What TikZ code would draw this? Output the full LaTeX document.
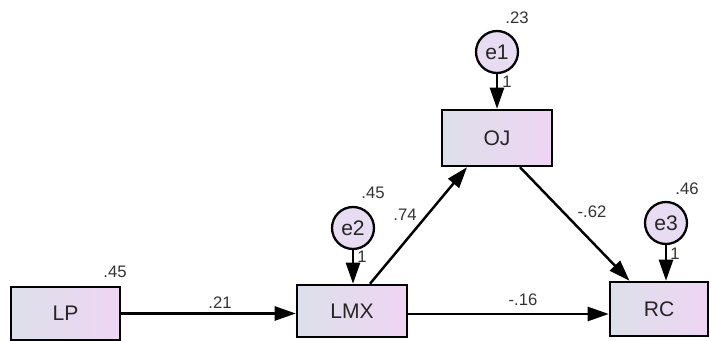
\documentclass[tikz,border=0pt]{standalone}
\usepackage{fontspec}
\setmainfont{Liberation Sans}
\usepackage{xcolor}
\usetikzlibrary{arrows.meta,positioning}

\definecolor{boxleft}{HTML}{DCE0EA}
\definecolor{boxright}{HTML}{EFD5F3}
\definecolor{errfill}{HTML}{E7DCF1}
\definecolor{labgray}{HTML}{333333}

\tikzset{
    obsvar/.style={draw, line width=1.4pt, left color=boxleft, right color=boxright,
        minimum width=2.2cm, minimum height=1.06cm, inner sep=0pt,
        font=\fontsize{12}{14}\selectfont, text=black!85},
    errvar/.style={draw, circle, line width=1.3pt, fill=errfill, minimum size=0.84cm,
        inner sep=0pt, font=\fontsize{12}{14}\selectfont, text=black!85},
    regpath/.style={-{Triangle[length=12pt,width=8pt]}, line width=1.4pt},
    coef/.style={font=\fontsize{9.5}{11}\selectfont, text=labgray, inner sep=0pt}
}

\begin{document}
\begin{tikzpicture}[x=0.02cm, y=-0.02cm]
    \useasboundingbox (0,0) rectangle (711,341);

    % Observed variables
    \node[obsvar, minimum width=2.18cm] (lp) at (65.5,313.5) {LP};
    \node[obsvar, minimum height=1.04cm] (lmx) at (352,311) {LMX};
    \node[obsvar, minimum height=1.12cm] (oj) at (497,138) {OJ};
    \node[obsvar, minimum width=1.96cm, minimum height=1.08cm] (rc) at (659,309) {RC};

    % Error terms
    \node[errvar] (e1) at (497,52) {e1};
    \node[errvar] (e2) at (353,228) {e2};
    \node[errvar] (e3) at (666,223) {e3};

    % Paths
    \draw[regpath] (lp.east) -- (lp.east -| lmx.west);
    \draw[regpath] ([yshift=-0.06cm]lmx.east) -- ([yshift=-0.06cm]lmx.east -| rc.west);
    \draw[regpath] ([xshift=0.36cm]lmx.north) -- ([xshift=-0.6cm]oj.south);
    \draw[regpath] ([xshift=0.46cm]oj.south) -- ([xshift=-0.59cm]rc.north);
    \draw[regpath] (e1.south) -- (e1.south |- oj.north);
    \draw[regpath] (e2.south) -- (e2.south |- lmx.north);
    \draw[regpath] (e3.south) -- (e3.south |- rc.north);

    % Estimates
    \node[coef] (r2lp) at (115,272) {.45};
    \node[coef] (r2oj) at (517,18) {.23};
    \node[coef] (r2lmx) at (373,193) {.45};
    \node[coef] (r2rc) at (687,189) {.46};
    \node[coef] (one1) at (507,82) {1};
    \node[coef] (one2) at (362,257) {1};
    \node[coef] (one3) at (675,254) {1};
    \node[coef] (blp) at (220,303) {.21};
    \node[coef] (blmx) at (405,215) {.74};
    \node[coef] (boj) at (592,212) {-.62};
    \node[coef] (bdir) at (523,300) {-.16};
\end{tikzpicture}
\end{document}
